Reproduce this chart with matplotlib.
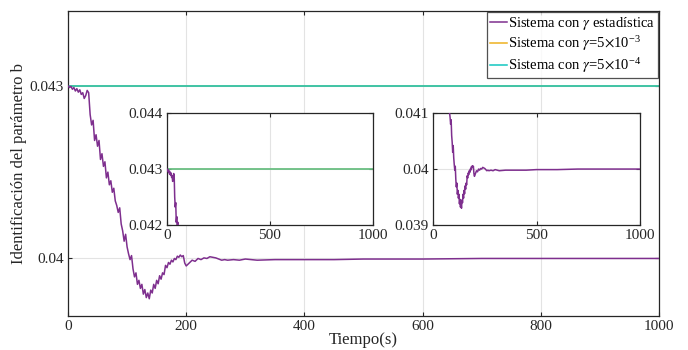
import matplotlib
matplotlib.use("Agg")
import matplotlib.pyplot as plt

plt.rcParams['font.family'] = ['Liberation Serif', 'DejaVu Serif']
plt.rcParams['mathtext.fontset'] = 'stix'

# ---- data ----
time_s = [0, 2.5, 5, 7.5, 10, 12.5, 15, 17.5, 20, 22.5, 25, 27.5, 30, 32.5, 35, 37.5,
          40, 42.5, 45, 47.5, 50, 52.5, 55, 57.5, 60, 62.5, 65, 67.5, 70, 72.5, 75, 77.5,
          80, 82.5, 85, 87.5, 90, 92.5, 95, 97.5, 100, 102.5, 105, 107.5, 110, 112.5, 115, 117.5,
          120, 122.5, 125, 127.5, 130, 132.5, 135, 137.5, 140, 142.5, 145, 147.5, 150, 152.5, 155, 157.5,
          160, 162.5, 165, 167.5, 170, 172.5, 175, 177.5, 180, 182.5, 185, 187.5, 190, 192.5, 195, 197.5,
          200, 205, 210, 215, 220, 225, 230, 235, 240, 245, 250, 255, 260, 265, 270, 280, 290, 300,
          320, 350, 400, 450, 500, 600, 700, 800, 900, 1000]
b_estadistica = [0.04300, 0.04297, 0.04299, 0.04294, 0.04297, 0.04291, 0.04295, 0.04289, 0.04293, 0.04285,
                 0.04288, 0.04278, 0.04283, 0.04292, 0.04288, 0.04250,
                 0.04232, 0.04240, 0.04205, 0.04215, 0.04195, 0.04205, 0.04172, 0.04182, 0.04160, 0.04168,
                 0.04140, 0.04150, 0.04128, 0.04135, 0.04115, 0.04122,
                 0.04100, 0.04092, 0.04080, 0.04088, 0.04060, 0.04048, 0.04030, 0.04042, 0.04020, 0.04008,
                 0.03998, 0.04005, 0.03982, 0.03968, 0.03975, 0.03955,
                 0.03962, 0.03948, 0.03955, 0.03938, 0.03946, 0.03932, 0.03940, 0.03930, 0.03945, 0.03940,
                 0.03955, 0.03948, 0.03962, 0.03956, 0.03970, 0.03964,
                 0.03975, 0.03972, 0.03988, 0.03984, 0.03993, 0.03990, 0.03997, 0.03994, 0.04000, 0.03998,
                 0.04004, 0.04002, 0.04006, 0.04003, 0.04005, 0.03992,
                 0.03987, 0.03992, 0.03997, 0.03995, 0.04000, 0.03998, 0.04001, 0.04000, 0.04003, 0.04002,
                 0.04001, 0.03999, 0.03997, 0.03998, 0.03997, 0.03998, 0.03997, 0.03999,
                 0.03997, 0.03998, 0.03998, 0.03998, 0.03999, 0.03999, 0.04000, 0.04000, 0.04000, 0.04000]
time_const = [0, 1000]
b_gamma_5e3 = [0.043, 0.043]
b_gamma_5e4 = [0.043, 0.043]

labels = [r'Sistema con $\gamma$ estadística',
          r'Sistema con $\gamma$=5$\times$10$^{\mathregular{-3}}$',
          r'Sistema con $\gamma$=5$\times$10$^{\mathregular{-4}}$']

c_purple = '#7E2F8E'
c_orange = '#EDB120'
c_cyan = '#12C6C0'
axcol = '#262626'

fig = plt.figure(figsize=(6.88, 3.5), dpi=100)


def style(ax, fs):
    for s in ax.spines.values():
        s.set_color(axcol)
        s.set_linewidth(0.9)
    ax.tick_params(direction='in', top=True, right=True, labelsize=fs, colors=axcol,
                   length=3, width=0.8, pad=3)
    ax.grid(True, color='#e3e3e3', linewidth=0.8)
    ax.set_axisbelow(True)


ax = fig.add_axes([0.0988, 0.0971, 0.8593, 0.8715])
ax.plot(time_s, b_estadistica, color=c_purple, lw=1.1, label=labels[0], zorder=3)
ax.plot(time_const, b_gamma_5e3, color=c_orange, lw=1.1, label=labels[1], zorder=2)
ax.plot(time_const, b_gamma_5e4, color=c_cyan, lw=1.1, label=labels[2], zorder=2.5)
ax.set_xlim(0, 1000)
ax.set_ylim(0.039, 0.0443)
ax.set_xticks([0, 200, 400, 600, 800, 1000])
ax.set_yticks([0.04, 0.043])
ax.set_yticklabels(['0.04', '0.043'])
style(ax, 11)
ax.set_xlabel('Tiempo(s)', fontsize=12, color=axcol, labelpad=-1)
ax.set_ylabel('Identificación del parámetro b', fontsize=12, color=axcol, labelpad=2)
leg = ax.legend(loc='upper right', fontsize=10.5, frameon=True, fancybox=False,
                borderaxespad=0.05, handlelength=1.2, handletextpad=0.1,
                borderpad=0.2, labelspacing=0.15)
leg.get_frame().set_edgecolor(axcol)
leg.get_frame().set_linewidth(0.9)

# inset 1
ax1 = fig.add_axes([0.2427, 0.357, 0.2994, 0.32])
ax1.plot(time_s, b_estadistica, color=c_purple, lw=1.1, zorder=3)
ax1.plot(time_const, b_gamma_5e3, color=c_orange, lw=1.1, zorder=2)
ax1.plot(time_const, b_gamma_5e4, color=c_cyan, lw=1.1, alpha=0.7, zorder=2.5)
ax1.set_xlim(0, 1000)
ax1.set_ylim(0.042, 0.044)
ax1.set_xticks([0, 500, 1000])
ax1.set_yticks([0.042, 0.043, 0.044])
ax1.set_yticklabels(['0.042', '0.043', '0.044'])
style(ax1, 11)

# inset 2
ax2 = fig.add_axes([0.6294, 0.357, 0.3009, 0.32])
ax2.plot(time_s, b_estadistica, color=c_purple, lw=1.1, zorder=3)
ax2.plot(time_const, b_gamma_5e3, color=c_orange, lw=1.1, zorder=2)
ax2.plot(time_const, b_gamma_5e4, color=c_cyan, lw=1.1, zorder=2.5)
ax2.set_xlim(0, 1000)
ax2.set_ylim(0.039, 0.041)
ax2.set_xticks([0, 500, 1000])
ax2.set_yticks([0.039, 0.04, 0.041])
ax2.set_yticklabels(['0.039', '0.04', '0.041'])
style(ax2, 11)

fig.savefig('out.png', dpi=100)
